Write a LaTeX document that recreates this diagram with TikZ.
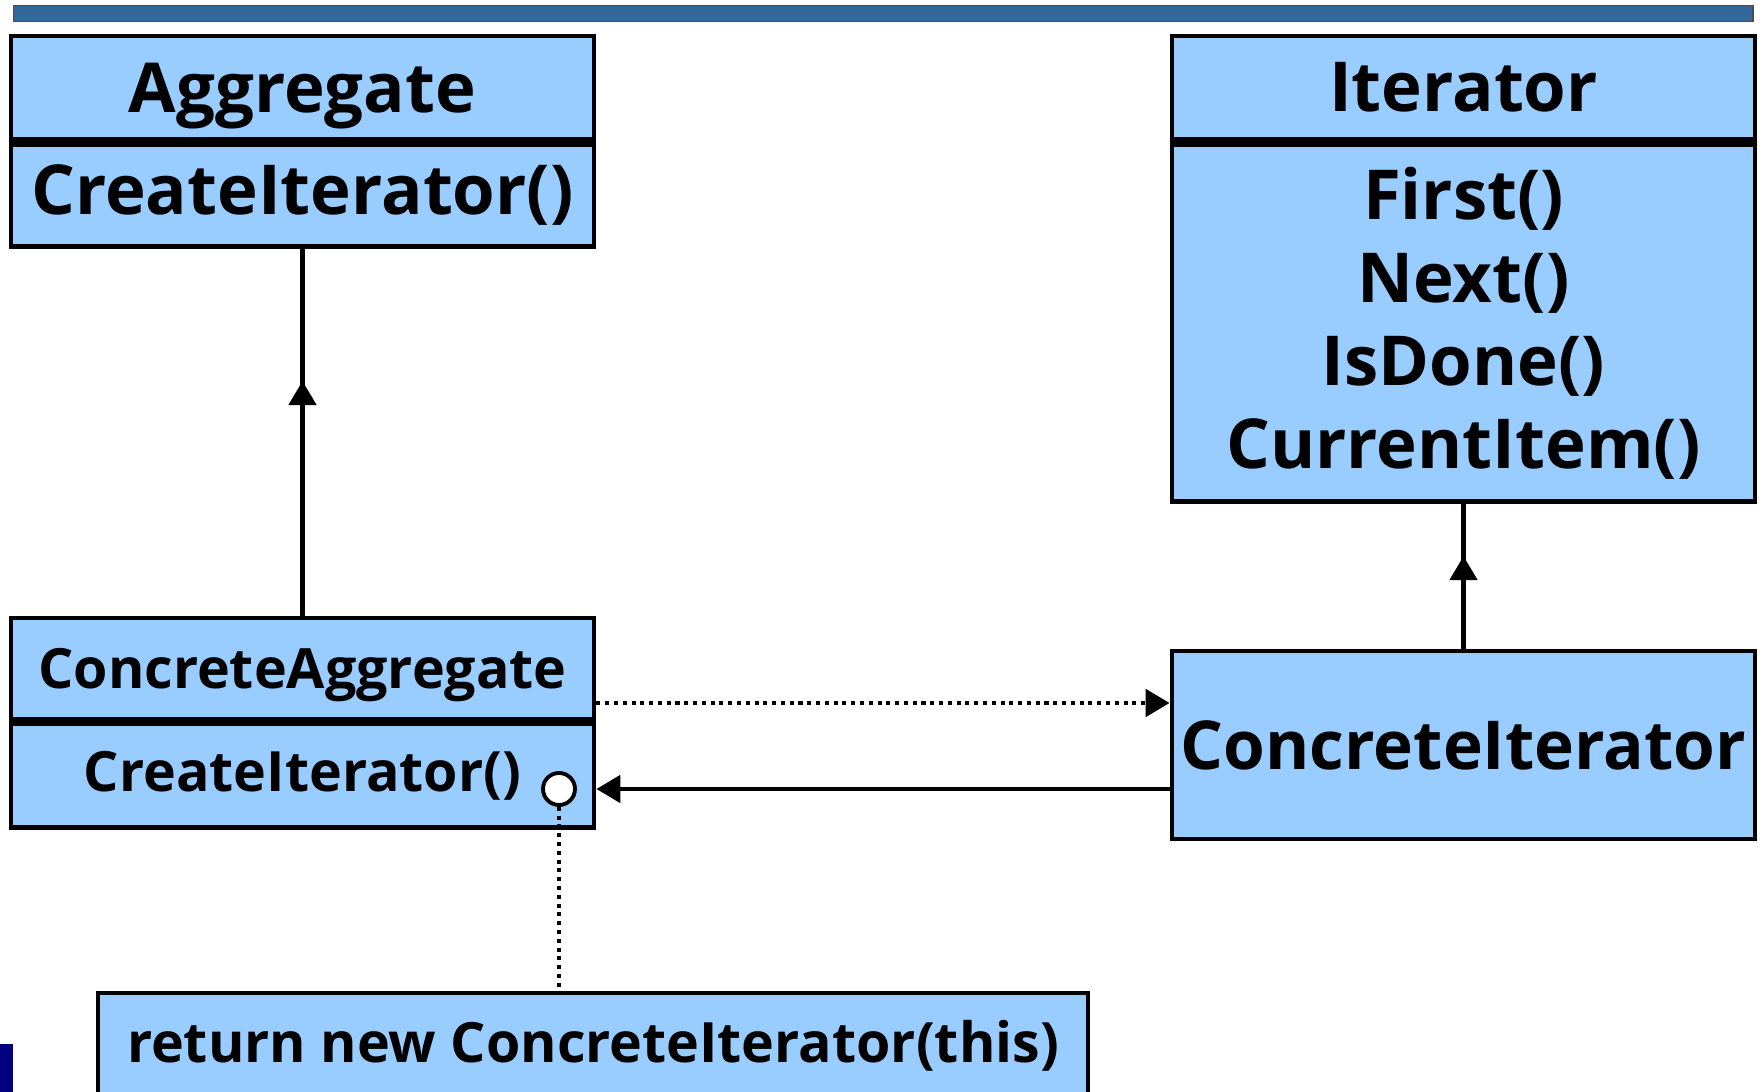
\documentclass[tikz,border=0pt]{standalone}
\usepackage{fontspec}
\setmainfont{Open Sans}
\usepackage{tikz}
\usetikzlibrary{positioning,arrows.meta,decorations.markings}

\definecolor{classblue}{HTML}{99CCFF}
\definecolor{barblue}{HTML}{336699}
\definecolor{slidenavy}{HTML}{000080}

\tikzset{
  umlbox/.style = {draw, line width=1.35pt, fill=classblue, inner sep=0pt,
                   minimum width=5.83cm, align=center},
  bigtext/.style = {font=\bfseries\fontsize{19.6}{23.6}\selectfont},
  smalltext/.style = {font=\bfseries\fontsize{15.8}{19}\selectfont},
  inherit/.style = {line width=1.4pt, decoration={markings,
                    mark=at position 0.64 with {\arrow{Triangle[length=2.4mm,width=2.7mm]}}},
                    postaction={decorate}},
  calls/.style = {line width=1.4pt, -{Triangle[length=2.4mm,width=2.7mm]}},
  depends/.style = {calls, dash pattern=on 1.15pt off 1.35pt},
}

\begin{document}
\begin{tikzpicture}
  \useasboundingbox (0,0) rectangle (17.64,10.92);
  % slide decoration
  \fill[barblue, draw=black!70, line width=0.4pt] (0.135,10.706) rectangle (17.53,10.864);
  \fill[slidenavy] (0,0) rectangle (0.13,0.48);

  % Aggregate
  \node[umlbox, bigtext, minimum height=1.035cm, text depth=0pt] (agg) at (3.025,10.0425) {Aggregate};
  \node[umlbox, bigtext, minimum height=1.025cm, below=0pt of agg] (aggops) {CreateIterator()};

  % Iterator
  \node[umlbox, bigtext, minimum height=1.035cm] (it) at (14.635,10.0425) {Iterator};
  \node[umlbox, bigtext, minimum height=3.575cm, below=0pt of it] (itops)
    {First()\\Next()\\IsDone()\\CurrentItem()};

  % ConcreteAggregate
  \node[umlbox, smalltext, minimum height=1.01cm, text depth=0pt] (cagg) at (3.025,4.235) {ConcreteAggregate};
  \node[umlbox, smalltext, minimum height=1.04cm, below=0pt of cagg] (caggops) {CreateIterator()};

  % ConcreteIterator
  \node[umlbox, font=\bfseries\fontsize{19.2}{22}\selectfont, minimum height=1.88cm] (cit)
    at (14.635,3.47) {ConcreteIterator};

  % note
  \node[umlbox, smalltext, minimum width=9.9cm, minimum height=1.06cm] (note)
    at (5.93,0.46) {return new ConcreteIterator(this)};
  \node[circle, draw, fill=white, line width=1.1pt, minimum size=0.32cm, inner sep=0pt] (hook)
    at (5.59,3.03) {};

  % relations
  \draw[inherit] (cagg.north) -- (aggops.south);
  \draw[inherit] (cit.north) -- (itops.south);

  \coordinate (deptop) at ([yshift=4.2mm]cit.west);
  \coordinate (depbot) at ([yshift=-4.4mm]cit.west);
  \draw[depends] (deptop -| cagg.east) -- (deptop);
  \draw[calls] (depbot) -- (depbot -| caggops.east);
  \draw[line width=1.4pt, dash pattern=on 1.15pt off 1.35pt] (hook.south) -- (hook.south |- note.north);
\end{tikzpicture}
\end{document}
